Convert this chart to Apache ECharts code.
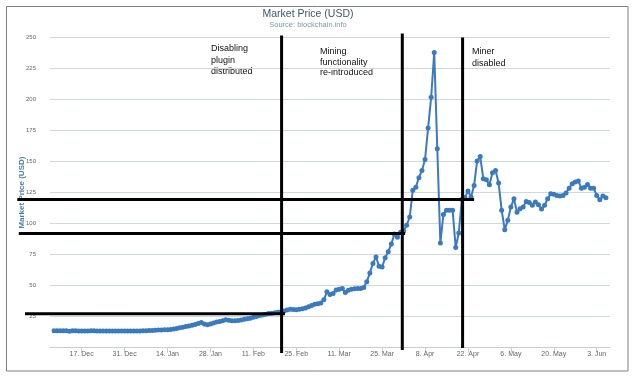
<!DOCTYPE html>
<html><head><meta charset="utf-8">
<script src="https://cdn.jsdelivr.net/npm/echarts@6/dist/echarts.min.js"></script>
<style>html,body{margin:0;padding:0;background:#fff}#c{width:640px;height:381px}</style>
</head><body><div id="c"></div>
<script>
// Daily market price (USD), starting 8 Dec 2012
const startDate = '2012-12-08';
const pricesDec = [13.5,13.5,13.5,13.6,13.6,13.2,13.5,13.5,13.4,13.4,13.3,13.4,13.5,13.5,13.4,13.4,13.4,13.4,13.4,13.4,13.4,13.4,13.4,13.4];
const pricesJan = [13.3,13.3,13.4,13.4,13.4,13.5,13.6,13.7,13.8,14.0,14.1,14.2,14.3,14.4,14.6,15.0,15.4,15.9,16.4,16.9,17.4,18.0,18.6,19.4,20.2,18.9,18.3,18.9,19.7,20.5,21.0];
const pricesFeb = [21.6,22.4,22.0,21.6,21.5,21.8,22.2,22.7,23.2,23.7,24.4,25.1,25.8,26.2,26.8,27.4,27.7,28.0,28.4,28.8,29.4,30.2,30.9,30.6,30.5,30.8,31.3,31.8];
const pricesMar = [32.8,33.8,35.0,35.4,36.0,38.5,44.9,42.8,43.6,46.5,47.0,47.6,44.4,46.3,47.0,47.5,47.6,47.6,48.5,53.0,60.2,67.8,73.1,65.6,65.0,72.5,77.3,83.5,91.5,89.0,93.0];
const pricesApr = [94.0,98.6,105.3,126.8,129.4,137.0,142.9,151.7,177.2,201.9,238.1,160.3,84.4,107.4,110.7,110.7,110.7,80.6,92.4,119.5,121.0,126.2,121.4,130.8,150.6,154.1,136.2,135.4,131.3,141.0];
const pricesMay = [142.9,132.7,110.7,95.1,102.6,113.3,120.1,109.1,112.0,113.3,117.9,117.1,114.7,117.4,115.2,111.7,114.7,120.1,124.1,123.6,122.7,122.2,122.7,124.6,128.6,132.2,133.5,134.3,128.6,129.4,131.6];
const pricesJun = [128.6,128.6,122.7,119.3,122.2,120.9];

const tickDates = ['2012-12-17','2012-12-31','2013-01-14','2013-01-28','2013-02-11','2013-02-25','2013-03-11','2013-03-25','2013-04-08','2013-04-22','2013-05-06','2013-05-20','2013-06-03'];
const monthNames = ['Jan','Feb','Mar','Apr','May','Jun','Jul','Aug','Sep','Oct','Nov','Dec'];
const xMinDate = '2012-12-06T16:00:00Z';
const xMaxDate = '2013-06-07T08:00:00Z';

// Annotation lines: [date, value] end points
const annotDisabling = [['2013-02-20T05:00:00Z', 251.7], ['2013-02-20T05:00:00Z', -4.4]];
const annotMining    = [['2013-03-31T14:00:00Z', 253.4], ['2013-03-31T14:00:00Z', -2.0]];
const annotMiner     = [['2013-04-20T06:00:00Z', 250.1], ['2013-04-20T06:00:00Z', -0.4]];
const annotLevelHigh = [['2012-11-26T00:00:00Z', 119.4], ['2013-04-24T00:00:00Z', 119.4]];
const annotLevelMid  = [['2012-11-26T12:00:00Z', 92.0], ['2013-04-01T12:00:00Z', 92.0]];
const annotLevelLow  = [['2012-11-28T12:00:00Z', 27.3], ['2013-02-21T07:00:00Z', 27.3]];
const annotTexts = ['Disabling\nplugin\ndistributed', 'Mining\nfunctionality\nre-introduced', 'Miner\ndisabled'];

const DAY = 86400000;
const t0 = Date.parse(startDate + 'T00:00:00Z');
const allPrices = [].concat(pricesDec, pricesJan, pricesFeb, pricesMar, pricesApr, pricesMay, pricesJun);
const priceData = allPrices.map((v, i) => [t0 + i * DAY, v]);
const toPts = arr => arr.map(p => [Date.parse(p[0]), p[1]]);
const tickVals = tickDates.map(d => Date.parse(d + 'T00:00:00Z'));
const FONT = 'Liberation Sans';

// Layout: main plot and an overlay plot extended to the left edge with the same scale
const G = { left: 50, right: 30, top: 37.7, bottom: 33.5 };
const xMin = Date.parse(xMinDate), xMax = Date.parse(xMaxDate);
const plotW = 640 - G.left - G.right;
const xMinOverlay = xMin - G.left * (xMax - xMin) / plotW;

const annotSeries = [annotDisabling, annotMining, annotMiner, annotLevelHigh, annotLevelMid, annotLevelLow].map(a => ({
  type: 'line', xAxisIndex: 1, yAxisIndex: 1, data: toPts(a), symbol: 'none', clip: false, silent: true, z: 5,
  lineStyle: { color: '#000', width: 3 }, animation: false
}));

const chart = echarts.init(document.getElementById('c'), null, { renderer: 'canvas' });
chart.setOption({
  animation: false,
  backgroundColor: '#fff',
  grid: [
    { left: G.left, right: G.right, top: G.top, bottom: G.bottom, containLabel: false },
    { left: 0, right: G.right, top: G.top, bottom: G.bottom, containLabel: false }
  ],
  xAxis: [{
    type: 'value', gridIndex: 0,
    min: xMin, max: xMax,
    axisLine: { show: true, lineStyle: { color: '#c0d0e0', width: 1 } },
    axisTick: { show: true, customValues: tickVals, length: 5, lineStyle: { color: '#c0d0e0' } },
    axisLabel: {
      customValues: tickVals, margin: 3, fontSize: 7, color: '#666', fontFamily: FONT,
      formatter: v => { const d = new Date(v); return d.getUTCDate() + '. ' + monthNames[d.getUTCMonth()]; }
    },
    splitLine: { show: false }
  }, {
    type: 'value', gridIndex: 1, min: xMinOverlay, max: xMax, show: false
  }],
  yAxis: [{
    type: 'value', gridIndex: 0, min: 0, max: 250, interval: 25,
    name: 'Market Price (USD)', nameLocation: 'middle', nameGap: 24, nameRotate: 90, nameMoveOverlap: false,
    nameTextStyle: { color: '#4d7fb0', fontWeight: 'bold', fontSize: 8, fontFamily: FONT },
    axisLine: { show: false }, axisTick: { show: false },
    axisLabel: { fontSize: 6, color: '#666', margin: 14, fontFamily: FONT, formatter: v => v === 0 ? '' : String(v) },
    splitLine: { show: true, lineStyle: { color: '#d3d7da', width: 1 } }
  }, {
    type: 'value', gridIndex: 1, min: 0, max: 250, show: false
  }],
  series: [{
    type: 'line', data: priceData, symbol: 'circle', symbolSize: 5, z: 3,
    lineStyle: { color: '#3a7bbf', width: 2 }, itemStyle: { color: '#3a7bbf' }
  }].concat(annotSeries),
  graphic: [
    { type: 'rect', shape: { x: 6.5, y: 6.5, width: 621.5, height: 364.5 }, style: { fill: 'none', stroke: '#808080', lineWidth: 1 }, silent: true },
    { type: 'text', x: 308, y: 14.5, style: { text: 'Market Price (USD)', fill: '#3e576f', font: '10.5px ' + FONT, textAlign: 'center', textVerticalAlign: 'middle' } },
    { type: 'text', x: 308, y: 24.5, style: { text: 'Source: blockchain.info', fill: '#7c96b0', font: '7.5px ' + FONT, textAlign: 'center', textVerticalAlign: 'middle' } },
    { type: 'text', x: 211, y: 42.5, style: { text: annotTexts[0], fill: '#111', font: '9px ' + FONT, lineHeight: 11.7, textAlign: 'left', textVerticalAlign: 'top' } },
    { type: 'text', x: 320, y: 46.5, style: { text: annotTexts[1], fill: '#111', font: '9px ' + FONT, lineHeight: 10.5, textAlign: 'left', textVerticalAlign: 'top' } },
    { type: 'text', x: 472, y: 46, style: { text: annotTexts[2], fill: '#111', font: '9px ' + FONT, lineHeight: 11.5, textAlign: 'left', textVerticalAlign: 'top' } }
  ]
});
</script></body></html>
